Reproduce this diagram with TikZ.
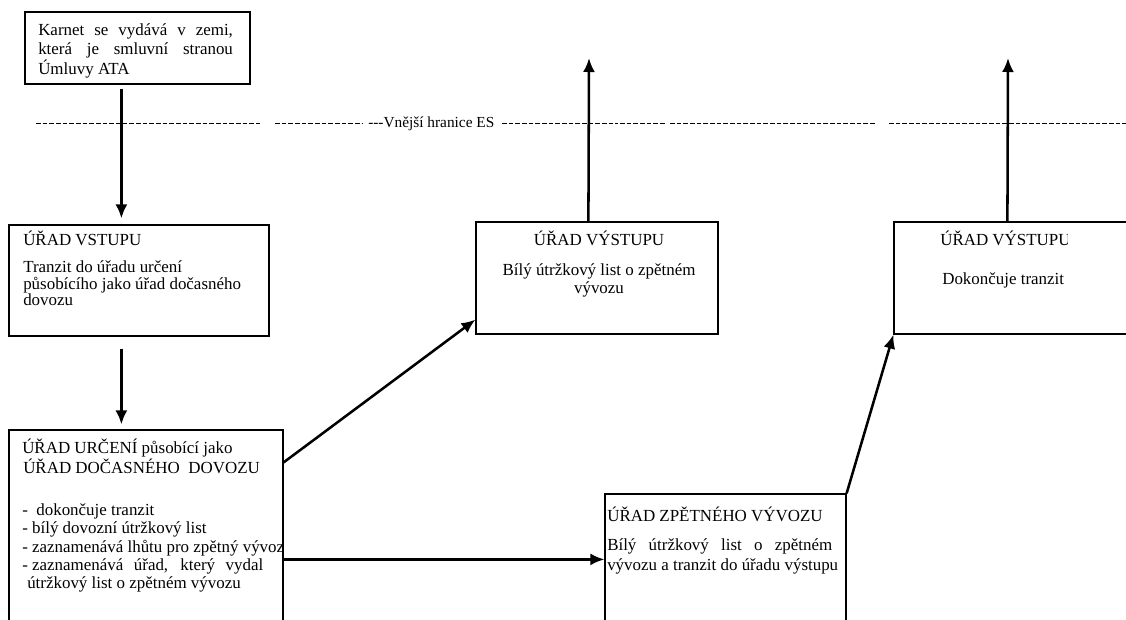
\documentclass[tikz,border=0pt]{standalone}
\usepackage{fontspec}
\setmainfont{Liberation Serif}
\usetikzlibrary{arrows.meta,fit,calc}
\begin{document}
\begin{tikzpicture}[x=0.75pt,y=-0.75pt,
  box/.style={draw,line width=0.9pt,inner sep=0pt},
  txt/.style={inner sep=0pt,anchor=base west,font=\fontsize{12.7}{14}\selectfont},
  ctxt/.style={txt,anchor=base},
  arr/.style={line width=1.9pt,-{Latex[length=10.5pt,width=9pt]}},
  border/.style={line width=0.7pt,dash pattern=on 3.6pt off 1.4pt}]
\clip (0,0) rectangle (1126,619);
\fill[white] (0,0) rectangle (1126,619);

% boxes
\node[box,fit={(25,12) (250,84)}] (b1) {};
\node[box,fit={(9,225) (269,336)}] (b2) {};
\node[box,fit={(9,430) (283,660)}] (b3) {};
\node[box,fit={(476,222) (718,334)}] (b4) {};
\node[box,fit={(894,222) (1150,334)}] (b5) {};
\node[box,fit={(605,494) (846,660)}] (b6) {};

% border line
\draw[border] (36,123) -- (260,123);
\draw[border] (275,123) -- (362,123);
\node[txt,font=\fontsize{11.5}{13}\selectfont] (es) at (368,127) {-{}-{}-Vnější hranice ES};
\draw[border] (502,123) -- (618,123);
\draw[border] (620,123) -- (665,123);
\draw[border] (670,123) -- (876,123);
\draw[border] (889,123) -- (1126,123);

% box 1
\node[txt] (t1a) at (38,35) {\makebox[146pt][s]{Karnet se vydává v zemi,}};
\node[txt] (t1b) at (38,54) {\makebox[146pt][s]{která je smluvní stranou}};
\node[txt] (t1c) at (38,74) {Úmluvy ATA};

% box 2
\node[txt] (t2a) at (23,245) {ÚŘAD VSTUPU};
\node[txt] (t2b) at (23,272) {Tranzit do úřadu určení};
\node[txt] (t2c) at (23,289) {působícího jako úřad dočasného};
\node[txt] (t2d) at (23,305) {dovozu};

% box 3
\begin{scope}
\clip (0,430) rectangle (248,619);
\node[txt] (t3a) at (22,453) {ÚŘAD URČENÍ působící\ jako};
\end{scope}
\node[txt] (t3b) at (23,473) {ÚŘAD DOČASNÉHO\ \ DOVOZU};
\node[txt] (t3c) at (22,515) {-\ \ dokončuje tranzit};
\node[txt] (t3d) at (22,533) {- bílý dovozní útržkový list};
\begin{scope}
\clip (0,430) rectangle (282,619);
\node[txt] (t3e) at (22,552) {- zaznamenává lhůtu pro zpětný vývoz};
\end{scope}
\node[txt] (t3f) at (22,570) {\makebox[180.75pt][s]{-\hspace{3.2pt}zaznamenává úřad, který vydal}};
\node[txt] (t3g) at (27,588) {útržkový list o zpětném vývozu};

% box 4
\node[ctxt] (t4a) at (599,245) {ÚŘAD VÝSTUPU};
\node[ctxt] (t4b) at (599,275) {Bílý útržkový list o zpětném};
\node[ctxt] (t4c) at (599,293) {vývozu};

% box 5
\begin{scope}
\clip (894,222) rectangle (1067,334);
\node[txt] (t5a) at (940,245) {ÚŘAD VÝSTUPU};
\end{scope}
\node[txt] (t5b) at (942,284) {Dokončuje tranzit};

% box 6
\node[txt] (t6a) at (607,521) {ÚŘAD ZPĚTNÉHO VÝVOZU};
\node[txt] (t6b) at (607,550) {\makebox[168.75pt][s]{Bílý útržkový list o zpětném}};
\begin{scope}
\clip (605,494) rectangle (845,619);
\node[txt] (t6c) at (607,570) {vývozu a tranzit do úřadu výstupu};
\end{scope}

% free ends
\coordinate (e1) at (589,58);
\coordinate (e2) at (1008,58);

% connectors
\draw[arr] ($(b1.south west)+(97,4)$) -- ($(b2.north west)+(113,-6)$);
\draw[arr] ($(b2.south west)+(113,12)$) -- ($(b3.north west)+(113,-5)$);
\draw[arr] ($(b3.north east)+(0,33)$) -- ($(b4.south west)+(0,-15)$);
\draw[arr] ($(b3.north east)+(0,130)$) -- ($(b6.north west)+(0,66)$);
\draw[arr] (b6.north east) -- (b5.south west);
\draw[arr] ($(b4.north west)+(113,0)$) -- (e1);
\draw[arr] ($(b5.north west)+(114,0)$) -- (e2);
\end{tikzpicture}
\end{document}
